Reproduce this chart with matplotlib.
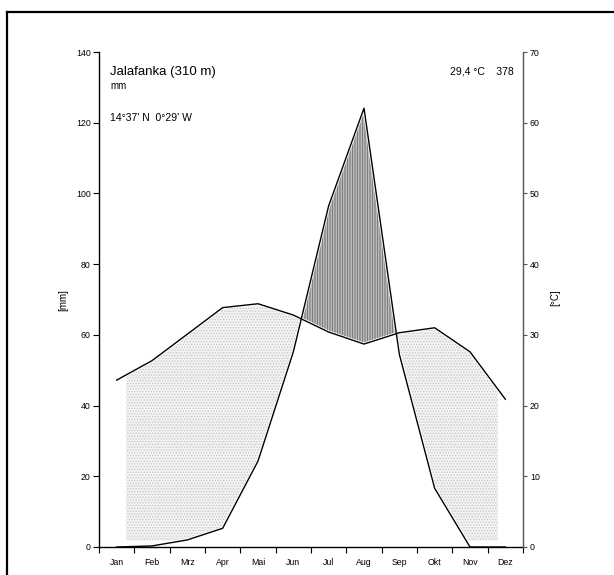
import numpy as np
import matplotlib
matplotlib.use("Agg")
import matplotlib.pyplot as plt
from matplotlib.lines import Line2D

plt.rcParams['font.family'] = ['Liberation Sans', 'DejaVu Sans']
plt.rcParams['hatch.linewidth'] = 0.6

months = ["Jan", "Feb", "Mrz", "Apr", "Mai", "Jun", "Jul", "Aug", "Sep", "Okt", "Nov", "Dez"]
temp_c = [23.6, 26.35, 30.1, 33.85, 34.4, 32.8, 30.4, 28.7, 30.3, 31.0, 27.6, 20.9]
precip_mm = [0.0, 0.3, 2.0, 5.3, 24.3, 55.2, 96.5, 124.1, 54.5, 16.6, 0.0, 0.0]
mm_ticks = [0, 20, 40, 60, 80, 100, 120, 140]
c_ticks = [0, 10, 20, 30, 40, 50, 60, 70]
station = "Jalafanka (310 m)"
coords = "14°37' N  0°29' W"
summary = "29,4 °C    378"

W, H = 614, 575
fig = plt.figure(figsize=(W / 100, H / 100), dpi=100)
ax = fig.add_axes([99 / W, 1 - 547 / H, (523 - 99) / W, (547 - 52) / H])
ax2 = ax.twinx()

idx = np.arange(len(months))
T2 = 2 * np.asarray(temp_c)
P = np.asarray(precip_mm)

ax.set_xlim(-0.5, 11.5)
ax.set_ylim(0, 140)
ax2.set_ylim(0, 70)

# fill geometry on a fine grid
xs = np.linspace(0, 11, 2201)
Pi = np.interp(xs, idx, P)
Ti = np.interp(xs, idx, T2)

# arid (dotted)
lower = np.maximum(Pi, 1.4)
arid = (Ti > lower) & (xs >= 0.23) & (xs <= 10.83)
ax.fill_between(xs, lower, Ti, where=arid, facecolor='#f3f3f3', edgecolor='#c4c4c4',
                hatch='......', linewidth=0, zorder=1)
ax.fill_between(xs, lower, Ti, where=arid, facecolor='none', edgecolor='white',
                linewidth=2.2, zorder=2)

# humid (vertical lines)
humid = Pi > Ti
ax.fill_between(xs, Ti, Pi, where=humid, facecolor='#d8d8d8', edgecolor='#6a6a6a',
                hatch='||||||||||', linewidth=0, zorder=1)
ax.fill_between(xs, Ti, Pi, where=humid, facecolor='none', edgecolor='white',
                linewidth=2.2, zorder=2)

# curves
ax.plot(idx, T2, color='black', lw=1.0, zorder=3, clip_on=False)
ax.plot(idx, P, color='black', lw=1.0, zorder=3, clip_on=False)

# spines
for a in (ax, ax2):
    a.spines['top'].set_visible(False)
ax.spines['left'].set_color('black')
ax.spines['bottom'].set_color('black')
ax.spines['right'].set_visible(False)
ax2.spines['left'].set_visible(False)
ax2.spines['bottom'].set_visible(False)
ax2.spines['right'].set_color('#555555')
for a in (ax, ax2):
    for s in a.spines.values():
        s.set_linewidth(1.0)

# ticks
ax.set_yticks(mm_ticks)
ax.tick_params(axis='y', direction='out', length=4, width=0.8, labelsize=6.3, pad=2)
ax2.set_yticks(c_ticks)
ax2.tick_params(axis='y', direction='out', length=3, width=0.8, labelsize=6.3, pad=2,
                color='#555555')
ax.set_xticks(np.arange(-0.5, 12.0, 1.0))
ax.set_xticklabels([])
ax.set_xticks(idx, minor=True)
ax.set_xticklabels(months, minor=True)
ax.tick_params(axis='x', which='major', direction='out', length=4, width=0.8)
ax.tick_params(axis='x', which='minor', length=0, labelsize=6.3, pad=8)

# axis labels
fig.text(63 / W, 1 - 300 / H, "[mm]", rotation=90, ha='center', va='center', fontsize=7)
fig.text(555 / W, 1 - 298 / H, "[°C]", rotation=90, ha='center', va='center', fontsize=7)

# annotations
fig.text(110.5 / W, 1 - 74.5 / H, station, ha='left', va='baseline', fontsize=9.5)
fig.text(110.5 / W, 1 - 89.5 / H, "mm", ha='left', va='baseline', fontsize=7)
fig.text(110.5 / W, 1 - 121 / H, coords, ha='left', va='baseline', fontsize=7.5)
fig.text(514 / W, 1 - 74.5 / H, summary, ha='right', va='baseline', fontsize=7.5)

# outer frame (cropped)
fig.add_artist(Line2D([7 / W, 7 / W], [0, 1 - 12 / H], transform=fig.transFigure,
                      color='black', lw=1.6))
fig.add_artist(Line2D([7 / W, 1], [1 - 12 / H, 1 - 12 / H], transform=fig.transFigure,
                      color='black', lw=1.6))

fig.savefig("out.png", dpi=100)
